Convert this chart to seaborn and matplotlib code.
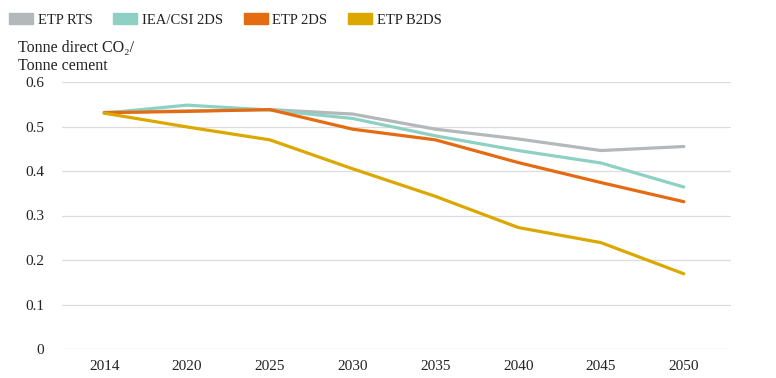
import matplotlib
matplotlib.use("Agg")
import matplotlib.pyplot as plt
import matplotlib.patches as mpatches
import seaborn as sns
import pandas as pd

years = ["2014", "2020", "2025", "2030", "2035", "2040", "2045", "2050"]
etp_rts = [0.532, 0.535, 0.538, 0.528, 0.494, 0.472, 0.446, 0.455]
iea_csi_2ds = [0.530, 0.548, 0.537, 0.518, 0.479, 0.446, 0.418, 0.364]
etp_2ds = [0.531, 0.534, 0.538, 0.494, 0.470, 0.419, 0.374, 0.331]
etp_b2ds = [0.530, 0.499, 0.470, 0.405, 0.343, 0.273, 0.239, 0.169]
series_names = ["ETP RTS", "IEA/CSI 2DS", "ETP 2DS", "ETP B2DS"]
colors = ["#b3b8ba", "#8fd0c4", "#e56b12", "#dba800"]
yticks = [0, 0.1, 0.2, 0.3, 0.4, 0.5, 0.6]
ylabel = "Tonne direct CO₂/\nTonne cement"

rows = []
for name, vals in zip(series_names, [etp_rts, iea_csi_2ds, etp_2ds, etp_b2ds]):
    for i, (yr, v) in enumerate(zip(years, vals)):
        rows.append({"pos": i, "year": yr, "value": v, "series": name})
df = pd.DataFrame(rows)

sns.set_theme(style="white")
plt.rcParams["font.family"] = ["Liberation Serif", "DejaVu Serif"]

fig = plt.figure(figsize=(7.76, 3.78), dpi=100)
ax = fig.add_axes([62 / 776, (378 - 349) / 378, (731 - 62) / 776, (349 - 82) / 378])

sns.lineplot(data=df, x="pos", y="value", hue="series", hue_order=series_names,
             palette=colors, linewidth=2.3, ax=ax, legend=False, sort=False)

ax.set_xlim(-0.51, 7.57)
ax.set_ylim(0, 0.6)
ax.set_xticks(range(len(years)))
ax.set_xticklabels(years)
ax.set_yticks(yticks)
ax.set_yticklabels([f"{t:g}" for t in yticks])
ax.grid(axis="y", color="#dcdcdc", linewidth=0.9)
ax.set_axisbelow(True)
for s in ax.spines.values():
    s.set_visible(False)
ax.tick_params(axis="both", length=0, labelsize=11, colors="#222222")
ax.tick_params(axis="y", pad=13)
ax.tick_params(axis="x", pad=8)
ax.set_xlabel("")
ax.set_ylabel("")

fig.text(18 / 776, 1 - 40 / 378, ylabel, ha="left", va="top", fontsize=11.5,
         color="#222222", linespacing=1.2)

handles = [mpatches.Patch(color=c, label=n) for n, c in zip(series_names, colors)]
fig.legend(handles=handles, loc="upper left", bbox_to_anchor=(-4 / 776, 1.0), ncol=4,
           frameon=False, fontsize=10.5, handlelength=1.65, handleheight=0.75,
           handletextpad=0.3, columnspacing=1.43, borderaxespad=0.5,
           labelcolor="#222222")

fig.savefig("out.png", dpi=100)
